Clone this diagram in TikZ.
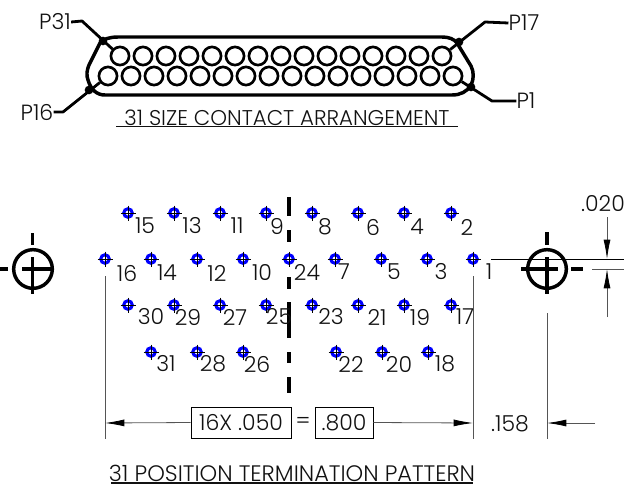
\documentclass[tikz,border=0pt]{standalone}
\usepackage{fontspec}
\setmainfont{Poppins}[UprightFont=* Light]
\usetikzlibrary{arrows.meta}
\definecolor{ink}{HTML}{111111}
\definecolor{dimgray}{HTML}{555555}
\tikzset{
  x=0.75pt,y=-0.75pt,
  lbl/.style={inner sep=0pt,font=\fontsize{16.5pt}{18pt}\selectfont,text=ink,anchor=center},
  title/.style={inner sep=0pt,text=ink,anchor=center},
  pad/.style={circle,draw=blue,line width=2.3pt,minimum size=6.4pt,inner sep=0pt},
  hair/.style={line width=0.35pt,black},
  shell/.style={line width=2.6pt,black,line join=round},
  heavy/.style={line width=3pt,black},
  contact/.style={circle,draw=black,line width=2pt,minimum size=13.6pt,inner sep=0pt},
  lead/.style={line width=2.1pt,black,line join=round},
  dot/.style={circle,fill=black,minimum size=6.5pt,inner sep=0pt},
  target/.style={circle,draw=black,line width=2.6pt,minimum size=29pt,inner sep=0pt},
  cross/.style={line width=2.3pt,black},
  dim/.style={line width=0.6pt,dimgray},
  dimbox/.style={draw=black,line width=0.6pt,inner sep=0pt,text=ink,font=\fontsize{16.5pt}{18pt}\selectfont},
  dimtip/.style={-{Latex[length=14.5pt,width=5.2pt,black]}},
}
\begin{document}
\begin{tikzpicture}
\useasboundingbox (0,0) rectangle (628,486);
% connector shell
\draw[shell] (118,37) -- (442,37) .. controls (449,37) and (454,39) .. (457,43)
  -- (471,66) .. controls (474,72) and (474,79) .. (471,85)
  .. controls (467,92) and (460,95) .. (452,95) -- (105,95)
  .. controls (97,95) and (91,90) .. (88,80) .. controls (86,75) and (87,70) .. (89,65)
  -- (100,43) .. controls (103,39) and (110,37) .. (118,37) -- cycle;
\foreach \i in {0,...,14} \node[contact] (ct\i) at (120+\i*23,56) {};
\foreach \i in {0,...,15} \node[contact] (cb\i) at (108+\i*23,76) {};
% leaders
\node[lbl] (P31) at (55,22) {P31};
\node[lbl] (P16) at (37,112) {P16};
\node[lbl] (P17) at (524,23) {P17};
\node[lbl] (P1) at (526,101) {P1};
\node[dot] (d31) at (103,41) {};
\node[dot] (d16) at (89,90) {};
\node[dot] (d17) at (459,42) {};
\node[dot] (d1) at (471,87) {};
\coordinate (k31) at (82,21);
\coordinate (k16) at (63,112);
\coordinate (k17) at (485,22);
\coordinate (k1) at (492,101);
\draw[lead] (P31.east) -- (k31) -- (ct0);
\draw[lead] (P16.east) -- (k16) -- (cb0);
\draw[lead] (P17.west) -- (k17) -- (ct14);
\draw[lead] (P1.west) -- (k1) -- (cb15);
\node[title,font=\fontsize{16pt}{18pt}\selectfont] (t1) at (287,118) {31 SIZE CONTACT ARRANGEMENT};
\draw[line width=0.9pt,ink] (116,126.5) -- (458,126.5);
% centre line
\foreach \a/\b in {197/216,230/242,277/289,302/338,352/363,377/393}
  \draw[heavy] (289,\a) -- (289,\b);
% pads
\foreach \n/\x/\y in {15/128/213,13/174/213,11/220/213,9/266/213,8/312/213,6/358/213,4/404/213,2/451/213,
  16/105/259,14/151/259,12/197/259,10/243/259,24/289/259,7/335/259,5/381/259,3/427/259,1/473/259,
  30/128/305,29/174/305,27/220/305,25/266/305,23/312/305,21/358/305,19/404/305,17/451/305,
  31/151/352,28/197/352,26/243/352,22/336/352,20/382/352,18/428/352}{
  \node[pad] (pad\n) at (\x,\y) {};
  \draw[hair] (\x-7.5,\y) -- (\x+7.5,\y) (\x,\y-7.5) -- (\x,\y+7.5);
}
% pad labels
\foreach \n/\x/\y in {15/145/226,13/192/226,11/237/226,9/277/226,8/325/227,6/373/227,4/417/227,2/467/227,
  16/127/273,14/167/273,12/217/273,10/262/273,24/307/272,7/344/272,5/394/272,3/441/272,1/489/272,
  30/151/317,29/188/317,27/235/317,25/279/317,23/331/317,21/377/317,19/420/317,17/465/317,
  31/166/364,28/213/364,26/257/364,22/351/364,20/399/364,18/445/364}
  \node[lbl] (lab\n) at (\x,\y) {\n};
% left target
\node[target] (tl) at (33,269) {};
\draw[cross] (22,269) -- (54,269) (32.5,257) -- (32.5,294);
\draw[cross] (32.5,233) -- (32.5,245) (0,269) -- (8,269);
% right target
\node[target] (tr) at (547,269) {};
\draw[cross] (521,269) -- (558,269) (547,257) -- (547,294);
\draw[cross] (547,232) -- (547,245) (571,269) -- (583,269);
% extension lines
\coordinate (e1) at (105,276);
\coordinate (e1b) at (105,439);
\coordinate (e2) at (473,276);
\coordinate (e2b) at (473,439);
\coordinate (e3) at (547,313);
\coordinate (e3b) at (547,439);
\draw[dim] (e1) -- (e1b) (e2) -- (e2b) (e3) -- (e3b);
\draw[hair,line width=0.6pt] (491,259) -- (624,259);
\draw[dim] (592,269) -- (624,269);
% .020 dimension
\node[lbl] (d020) at (603,204) {.020};
\coordinate (a1s) at (607,217);
\coordinate (a1e) at (607,259);
\coordinate (a2s) at (607,317);
\coordinate (a2e) at (607,269);
\draw[dim,dimtip] (a1s) -- (a1e);
\draw[dim,dimtip] (a2s) -- (a2e);
% bottom dimension
\node[dimbox,minimum width=75pt,minimum height=23.2pt] (b1) at (241,422.5) {16X .050};
\node[lbl] (eq) at (303,423) {=};
\node[dimbox,minimum width=43.5pt,minimum height=23.2pt] (b2) at (344,422.5) {.800};
\coordinate (al) at (105,423);
\coordinate (ar) at (473,423);
\draw[dim,dimtip] (b1.west) -- (al);
\draw[dim,dimtip] (b2.east) -- (ar);
\node[lbl] (d158) at (510,424) {.158};
\coordinate (a3s) at (595,423);
\coordinate (a3e) at (547,423);
\draw[dim,dimtip] (a3s) -- (a3e);
\node[title,font=\fontsize{16.8pt}{18pt}\selectfont] (t2) at (292,473) {31 POSITION TERMINATION PATTERN};
\draw[line width=0.9pt,ink] (111,483) -- (473,483);
\end{tikzpicture}
\end{document}
